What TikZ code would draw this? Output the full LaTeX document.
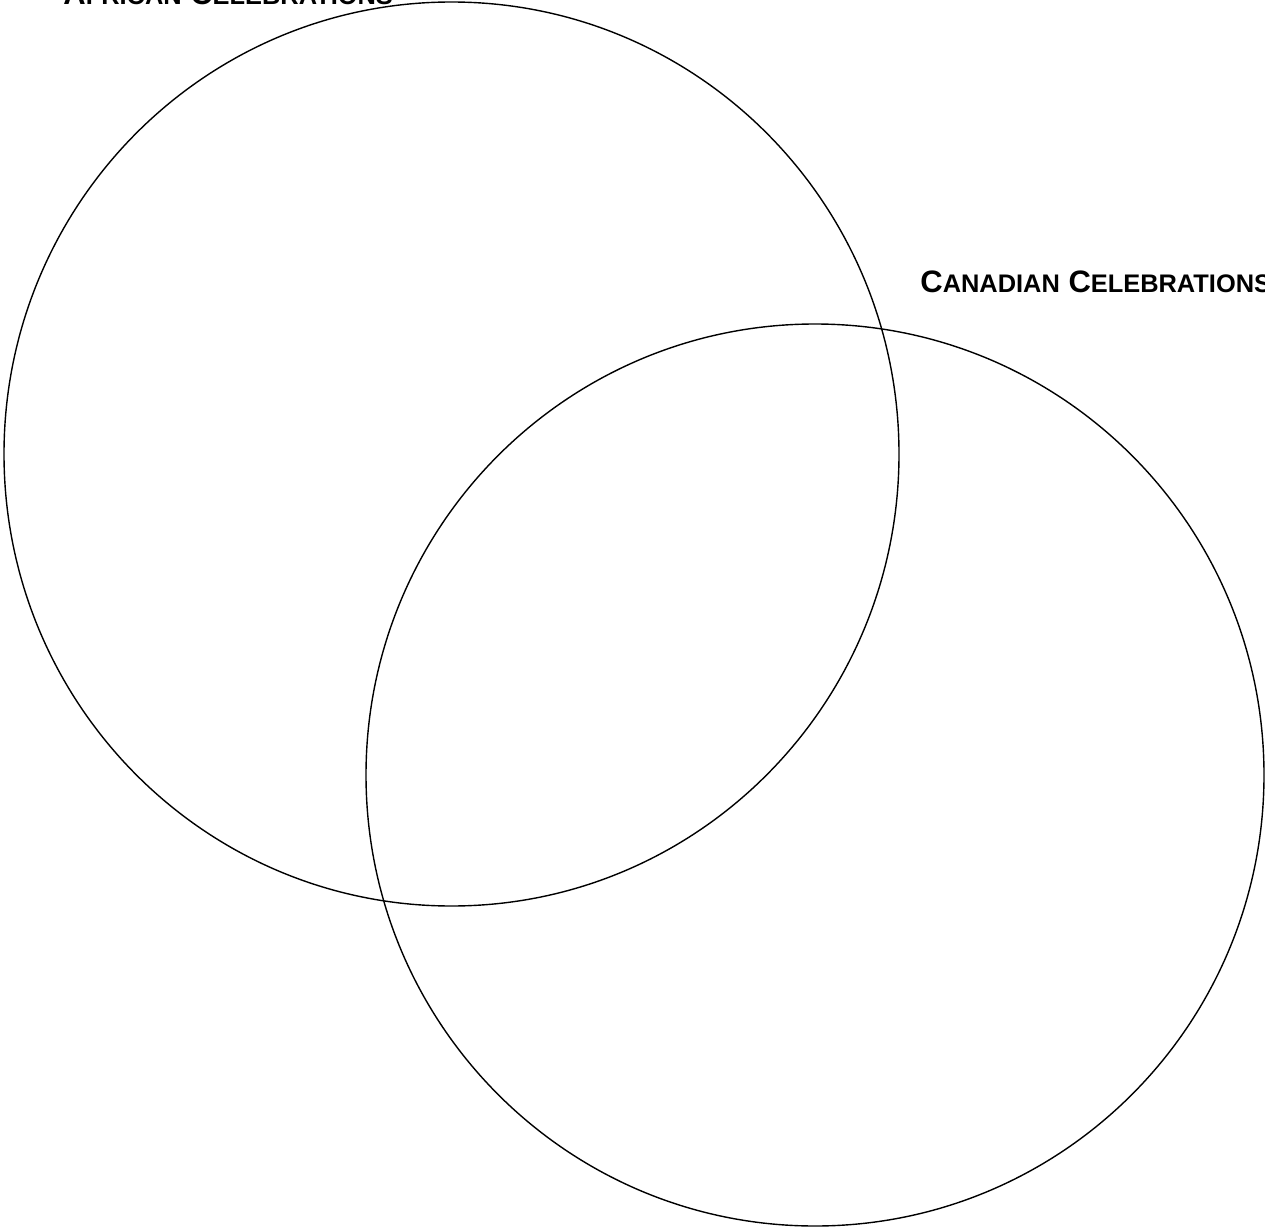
\documentclass[tikz,border=0pt]{standalone}
\usepackage{fontspec}
\setmainfont{Liberation Sans}

\newcommand{\scaps}[2]{#1{\fontsize{25.4}{27}\selectfont #2}}

\begin{document}
\begin{tikzpicture}[x=1pt, y=-1pt, thick]
  \tikzset{setlabel/.style={anchor=base west, inner sep=0pt, font=\fontsize{31}{33}\selectfont\bfseries}}
  \useasboundingbox (0,0) rectangle (1265,1230);

  \coordinate (africa) at (451.5, 454);
  \coordinate (canada) at (815, 775);

  \draw[line width=1.4pt] (africa) ellipse (447.5 and 452);
  \draw[line width=1.4pt] (canada) ellipse (449 and 451);

  \node[setlabel] (africalabel) at (63, 5) {\scaps{A}{FRICAN} \scaps{C}{ELEBRATIONS}};
  \node[setlabel] (canadalabel) at (920, 293) {\scaps{C}{ANADIAN} \scaps{C}{ELEBRATIONS}};
\end{tikzpicture}
\end{document}
